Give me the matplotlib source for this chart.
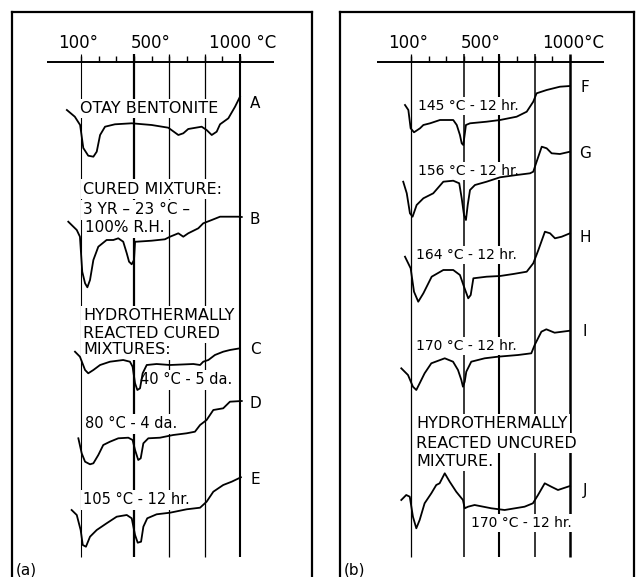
import numpy as np
import matplotlib.pyplot as plt

# temperature scale of the DTA records (deg C)
scale_ticks = [100, 200, 300, 400, 500, 600, 700, 800, 900, 1000]
guide_temps = [100, 400, 600, 800, 1000]
scale_label_temps = [85, 495, 1015]
scale_labels_a = ['100°', '500°', '1000 °C']
scale_labels_b = ['100°', '500°', '1000°C']

# traces: temperature (deg C) and pen position (chart units, larger = lower / endothermic)
temp_A = [20, 65, 95, 113, 141, 170, 189, 208, 236, 292, 387, 500, 594, 651, 679, 707, 783, 811, 840, 868, 887, 934, 972, 1000]
pen_A = [110, 116.7, 125, 148, 155.7, 156.7, 151.7, 135, 126.7, 124.3, 123.3, 125, 127.7, 135, 133.3, 129, 126.7, 130, 135, 131.7, 124.3, 118.3, 106.7, 96.7]

temp_B = [28, 76, 94, 107, 123, 136, 151, 170, 198, 245, 283, 311, 339, 359, 372, 387, 400, 406, 415, 500, 575, 604, 651, 679, 707, 764, 792, 840, 887, 915, 990, 1010]
pen_B = [221.7, 230, 236.7, 271.7, 283.3, 287.3, 280, 260, 246.7, 240, 240, 238.3, 241.7, 253.3, 261.7, 264.3, 260, 241.7, 241.7, 240.7, 239.3, 236.7, 233.3, 236.7, 233.3, 228.3, 223.3, 220, 216.7, 216.7, 216.7, 217]

temp_C = [66, 94, 123, 141, 170, 208, 264, 339, 377, 392, 406, 419, 434, 449, 472, 528, 604, 736, 774, 792, 821, 858, 905, 943, 1000]
pen_C = [351.7, 356.7, 370, 373.3, 370, 365, 361.7, 360, 361.7, 366.7, 383.3, 390, 388.3, 373.3, 365, 364, 365, 364, 365, 361.7, 360, 355, 351.7, 350, 348.3]

temp_D = [85, 104, 123, 151, 170, 198, 226, 264, 311, 368, 392, 406, 424, 438, 453, 481, 547, 622, 698, 745, 774, 811, 849, 905, 943, 1010]
pen_D = [438.3, 453.3, 461.7, 464.3, 463.3, 455, 445, 441.7, 438.3, 437.7, 440, 450, 460, 458.3, 443.3, 438.3, 437.7, 435, 433.3, 431.7, 425, 420, 410, 408.3, 401.7, 401]

temp_E = [47, 76, 98, 110, 128, 151, 189, 245, 302, 359, 387, 406, 421, 440, 453, 475, 528, 604, 698, 774, 811, 849, 905, 953, 1005]
pen_E = [510, 515, 530, 545, 546.7, 536.7, 530, 523.3, 516.7, 515, 518.3, 535, 542.7, 541.7, 526.7, 518.3, 514.3, 512.7, 509.3, 507.7, 501.7, 491.7, 485, 481.7, 477.3]

temp_F = [66, 85, 98, 117, 151, 170, 208, 264, 339, 359, 377, 387, 396, 411, 434, 528, 604, 698, 755, 792, 811, 868, 943, 1000]
pen_F = [105, 110, 128.3, 132.3, 128.3, 125, 123.3, 120, 120, 125, 135, 143.3, 145, 125, 123.3, 121.7, 120, 116.7, 111.7, 101.7, 93.3, 90, 86.7, 86]

temp_G = [56, 76, 94, 109, 132, 170, 226, 283, 339, 373, 387, 400, 411, 421, 434, 462, 528, 604, 698, 774, 792, 811, 840, 868, 896, 943, 1000]
pen_G = [181.7, 193.3, 213.3, 216.7, 205, 198.3, 193.3, 181.7, 180.7, 183.3, 198.3, 215, 220, 205, 190, 185, 181.7, 177.3, 175, 173.3, 171.7, 161.7, 146.7, 148.3, 153.3, 154, 151.7]

temp_H = [66, 98, 117, 141, 170, 217, 283, 339, 377, 400, 424, 438, 453, 528, 604, 679, 755, 792, 821, 858, 887, 915, 953, 1000]
pen_H = [256.7, 268.3, 291.7, 301.7, 293.3, 276.7, 270, 270, 275, 286.7, 298.3, 295, 278.3, 276.7, 276, 274, 271.7, 263.3, 250, 231.7, 233.3, 238.3, 236.7, 233.3]

temp_I = [45, 83, 111, 130, 149, 177, 215, 291, 338, 366, 385, 394, 404, 413, 441, 517, 592, 706, 781, 800, 838, 866, 913, 1000]
pen_I = [368.3, 375, 386.7, 390, 383.3, 373.3, 363.3, 358.3, 361.7, 370, 380, 386.7, 381.7, 371.7, 361.7, 358.3, 356.7, 355, 353.3, 345, 331.7, 329.3, 332.7, 330.7]

temp_J = [45, 73, 93, 111, 130, 149, 177, 215, 243, 262, 291, 319, 356, 394, 404, 423, 460, 555, 630, 743, 790, 819, 857, 894, 932, 1000]
pen_J = [500, 495, 496.7, 516.7, 528.3, 520, 503.3, 493.3, 485, 483.3, 473.3, 481.7, 491.7, 500, 508.3, 506.7, 505, 508.3, 510, 506.7, 503.3, 495, 483.3, 486.7, 490, 486]

letters_a = ['A', 'B', 'C', 'D', 'E']
letter_pos_a = [103, 220, 350, 403, 480]
letters_b = ['F', 'G', 'H', 'I', 'J']
letter_pos_b = [88, 153, 237, 331, 490]

# notes written on the chart: (temperature, chart height, text, size)
notes_a = [
    (94, 108.5, 'OTAY BENTONITE', 11.5),
    (111, 189, 'CURED MIXTURE:', 11.5),
    (111, 210, '3 YR – 23 °C –', 11),
    (123, 228, '100% R.H.', 11),
    (111, 316, 'HYDROTHERMALLY', 11.5),
    (111, 333, 'REACTED CURED', 11.5),
    (111, 350, 'MIXTURES:', 11.5),
    (434, 380, '40 °C - 5 da.', 10.5),
    (123, 424, '80 °C - 4 da.', 10.5),
    (111, 500, '105 °C - 12 hr.', 10.5),
]
notes_b = [
    (140, 106, '145 °C - 12 hr.', 10),
    (140, 171, '156 °C - 12 hr.', 10),
    (128, 255, '164 °C - 12 hr.', 10),
    (128, 346, '170 °C - 12 hr.', 10),
    (128, 424, 'HYDROTHERMALLY', 11.5),
    (128, 443, 'REACTED UNCURED', 11.5),
    (128, 461, 'MIXTURE.', 11.5),
    (440, 523, '170 °C - 12 hr.', 10),
]

px_per_deg = 159 / 900


def temp_at(px, px100):
    return 100 + (px - px100) / px_per_deg


def draw_panel(ax, px_left, px_right, px100, traces, letters, letter_pos, notes, scale_labels, guide_lw, tag):
    ax.set_xlim(temp_at(px_left, px100), temp_at(px_right, px100))
    ax.set_ylim(577, 12)
    ax.set_xticks([])
    ax.set_yticks([])
    ax.spines['bottom'].set_visible(False)
    for side in ['top', 'left', 'right']:
        ax.spines[side].set_linewidth(1.6)

    # temperature scale along the top
    ax.hlines(62, -95, 1195, colors='black', linewidth=1.4, zorder=1)
    ax.vlines(scale_ticks, 56, 62, colors='black', linewidth=1.0, zorder=1)
    ax.vlines(guide_temps, 54, 557, colors='black', linewidth=guide_lw, zorder=1)
    for t, lab in zip(scale_label_temps, scale_labels):
        ax.text(t, 43, lab, ha='center', va='center', fontsize=12)

    # lettering is pasted over the guide lines
    for t, y, txt, size in notes:
        ax.text(t, y, txt, ha='left', va='center', fontsize=size, zorder=3,
                bbox=dict(facecolor='white', edgecolor='none', pad=1.6))

    for (temps, pen), letter, ly in zip(traces, letters, letter_pos):
        ax.plot(temps, pen, color='black', linewidth=1.3, zorder=4)
        ax.text(1085, ly, letter, ha='center', va='center', fontsize=11)

    ax.text(temp_at(px_left + 4, px100), 570, tag, ha='left', va='center', fontsize=11)


fig = plt.figure(figsize=(6.36, 5.77), dpi=100)
ax_a = fig.add_axes([12 / 636, 0, 300 / 636, 565 / 577])
ax_b = fig.add_axes([340 / 636, 0, 294 / 636, 565 / 577])

draw_panel(ax_a, 12, 312, 81,
           [(temp_A, pen_A), (temp_B, pen_B), (temp_C, pen_C), (temp_D, pen_D), (temp_E, pen_E)],
           letters_a, letter_pos_a, notes_a, scale_labels_a,
           [0.8, 1.6, 0.9, 0.9, 1.5], '(a)')
draw_panel(ax_b, 340, 634, 411,
           [(temp_F, pen_F), (temp_G, pen_G), (temp_H, pen_H), (temp_I, pen_I), (temp_J, pen_J)],
           letters_b, letter_pos_b, notes_b, scale_labels_b,
           [0.9, 1.1, 1.5, 1.1, 1.8], '(b)')

plt.savefig('out.png', dpi=100)
